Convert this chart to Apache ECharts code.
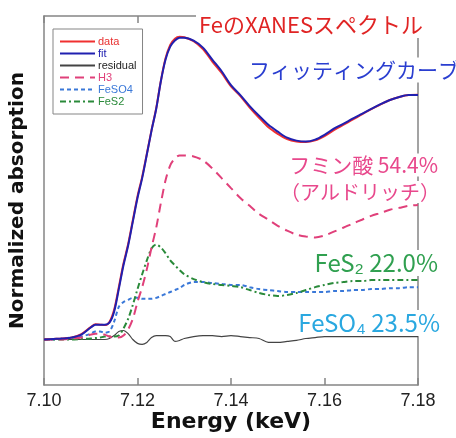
<!DOCTYPE html>
<html>
<head>
<meta charset="utf-8">
<script src="https://cdn.jsdelivr.net/npm/echarts@6/dist/echarts.min.js"></script>
<style>
  html, body { margin: 0; padding: 0; background: #fff; }
  #main { width: 456px; height: 438px; }
</style>
</head>
<body>
<div id="main"></div>
<script>
// エネルギー (keV)
var energy = [7.100, 7.102, 7.104, 7.106, 7.108, 7.110,
  7.111, 7.112, 7.113, 7.114, 7.115, 7.116, 7.117, 7.118, 7.119, 7.120,
  7.121, 7.122, 7.123, 7.124, 7.125, 7.126, 7.127, 7.128, 7.129, 7.130,
  7.132, 7.134, 7.136, 7.138, 7.140, 7.142, 7.144, 7.146, 7.148, 7.150,
  7.152, 7.154, 7.156, 7.158, 7.160, 7.162, 7.164, 7.166, 7.168, 7.170,
  7.172, 7.174, 7.176, 7.178, 7.180];

var dataY = [0, 0.002, 0.004, 0.008, 0.022, 0.051, 0.063, 0.061, 0.059, 0.072, 0.122, 0.215, 0.312, 0.392, 0.490, 0.588, 0.668, 0.763, 0.860, 0.950, 1.063, 1.155, 1.210, 1.236, 1.244, 1.242,
  1.226, 1.193, 1.142, 1.095, 1.040, 1.000, 0.953, 0.911, 0.872, 0.845, 0.823, 0.813, 0.811, 0.818, 0.836, 0.860, 0.882, 0.903, 0.925, 0.946, 0.966, 0.984, 0.996, 1.004, 1.005];

var fitY = [0, 0.002, 0.004, 0.008, 0.020, 0.049, 0.061, 0.061, 0.061, 0.069, 0.114, 0.207, 0.305, 0.386, 0.484, 0.581, 0.663, 0.760, 0.858, 0.947, 1.061, 1.150, 1.203, 1.228, 1.240, 1.240,
  1.228, 1.199, 1.150, 1.102, 1.045, 1.004, 0.959, 0.919, 0.882, 0.854, 0.829, 0.817, 0.813, 0.821, 0.841, 0.866, 0.886, 0.907, 0.927, 0.947, 0.967, 0.984, 0.996, 1.004, 1.004];

var residualY = [0, 0, 0, 0, 0, 0, 0, 0, 0, 0.004, 0.016, 0.033, 0.037, 0.024, 0, -0.016, -0.020, -0.012, 0.008, 0.016, 0.016, 0.016, 0.012, -0.008, -0.004, 0.004,
  0.012, 0.016, 0.016, 0.012, 0.016, 0.012, 0.008, 0.004, -0.012, -0.012, -0.008, -0.004, 0.004, 0.008, 0.012, 0.012, 0.012, 0.012, 0.012, 0.012, 0.012, 0.012, 0.012, 0.012, 0.012];

var h3Y = [0, 0, 0, 0.004, 0.008, 0.020, 0.024, 0.024, 0.020, 0.012, 0.008, 0.008, 0.016, 0.041, 0.085, 0.154, 0.215, 0.289, 0.378, 0.459, 0.561, 0.654, 0.715, 0.744, 0.756, 0.756,
  0.752, 0.736, 0.703, 0.663, 0.622, 0.581, 0.549, 0.516, 0.492, 0.467, 0.447, 0.431, 0.423, 0.419, 0.427, 0.443, 0.459, 0.476, 0.492, 0.508, 0.520, 0.533, 0.541, 0.549, 0.553];

var feso4Y = [0, 0, 0.004, 0.008, 0.012, 0.024, 0.033, 0.033, 0.028, 0.033, 0.073, 0.134, 0.154, 0.163, 0.171, 0.171, 0.167, 0.167, 0.167, 0.171, 0.179, 0.187, 0.195, 0.203, 0.211, 0.224,
  0.236, 0.236, 0.232, 0.228, 0.224, 0.224, 0.215, 0.207, 0.203, 0.199, 0.195, 0.195, 0.195, 0.195, 0.195, 0.199, 0.199, 0.203, 0.203, 0.207, 0.207, 0.211, 0.211, 0.215, 0.215];

var fes2Y = [0, 0, 0, 0, 0.002, 0.004, 0.006, 0.008, 0.012, 0.012, 0.012, 0.016, 0.045, 0.085, 0.142, 0.207, 0.268, 0.325, 0.374, 0.390, 0.378, 0.354, 0.325, 0.305, 0.285, 0.268,
  0.248, 0.236, 0.228, 0.224, 0.220, 0.215, 0.203, 0.191, 0.183, 0.179, 0.183, 0.191, 0.203, 0.215, 0.224, 0.232, 0.236, 0.240, 0.240, 0.244, 0.244, 0.244, 0.244, 0.244, 0.244];

// 目盛りラベル (7.10〜7.18, 0.02 刻み)
var xTickLabels = ['7.10', '7.12', '7.14', '7.16', '7.18'];

function pairs(ys) {
  return energy.map(function (e, i) { return [e, ys[i]]; });
}

var myChart = echarts.init(document.getElementById('main'));

var cjk = '"Noto Sans CJK JP", sans-serif';
var frameColor = '#858585';

function lineSeries(name, ys, color, width, dash, z) {
  return {
    name: name, type: 'line', data: pairs(ys),
    xAxisIndex: 0, yAxisIndex: 0,
    symbol: 'none', smooth: 0.3, z: z,
    lineStyle: { color: color, width: width, type: dash || 'solid' },
    itemStyle: { color: color }
  };
}

// 目盛りだけを描くカテゴリ軸 (上下とも内向き)
function tickAxis(pos, withLabel) {
  return {
    type: 'category', position: pos, data: xTickLabels, boundaryGap: false,
    axisLine: { show: false, onZero: false },
    axisTick: { show: true, inside: true, interval: 0, length: 7, lineStyle: { color: frameColor, width: 1.5 } },
    axisLabel: {
      show: withLabel, interval: 0, fontSize: 18, color: '#222', margin: 7, fontFamily: 'Liberation Sans'
    },
    splitLine: { show: false }
  };
}

var option = {
  backgroundColor: '#fff',
  animation: false,
  grid: { left: 44, right: 38, top: 16, bottom: 49 },
  legend: {
    orient: 'vertical',
    left: 53, top: 29,
    padding: [7, 6, 7, 6],
    itemWidth: 35, itemHeight: 10, itemGap: 1,
    borderColor: frameColor, borderWidth: 1,
    backgroundColor: '#fff',
    itemStyle: { opacity: 0 },
    textStyle: { fontSize: 11, fontFamily: 'Liberation Sans', padding: [0, 0, 0, -2] },
    data: [
      { name: 'data', textStyle: { color: '#e83030' } },
      { name: 'fit', textStyle: { color: '#2020b0' } },
      { name: 'residual', textStyle: { color: '#222' } },
      { name: 'H3', textStyle: { color: '#e0407a' } },
      { name: 'FeSO4', textStyle: { color: '#3a78d8' } },
      { name: 'FeS2', textStyle: { color: '#2a8a3a' } }
    ]
  },
  xAxis: [{
    type: 'value', position: 'bottom',
    min: 7.10, max: 7.18, interval: 0.02,
    name: 'Energy (keV)', nameLocation: 'middle', nameGap: 26,
    nameTextStyle: { fontSize: 22, fontWeight: 'bold', color: '#111', fontFamily: 'DejaVu Sans' },
    axisLine: { show: true, onZero: false, lineStyle: { color: frameColor, width: 1.5 } },
    axisTick: { show: false },
    axisLabel: { show: false },
    splitLine: { show: false }
  }, {
    type: 'value', position: 'top',
    min: 7.10, max: 7.18, interval: 0.02,
    axisLine: { show: true, onZero: false, lineStyle: { color: frameColor, width: 1.5 } },
    axisTick: { show: false },
    axisLabel: { show: false },
    splitLine: { show: false }
  },
    tickAxis('bottom', true),
    tickAxis('top', false)
  ],
  yAxis: [{
    type: 'value', position: 'left', min: -0.187, max: 1.329,
    name: 'Normalized absorption', nameLocation: 'middle', nameGap: 16,
    nameTextStyle: { fontSize: 20, fontWeight: 'bold', color: '#111', fontFamily: 'DejaVu Sans' },
    axisLine: { show: true, onZero: false, lineStyle: { color: frameColor, width: 1.5 } },
    axisTick: { show: false },
    axisLabel: { show: false },
    splitLine: { show: false }
  }, {
    type: 'value', position: 'right', min: -0.187, max: 1.329,
    axisLine: { show: true, onZero: false, lineStyle: { color: frameColor, width: 1.5 } },
    axisTick: { show: false },
    axisLabel: { show: false },
    splitLine: { show: false }
  }],
  series: [
    lineSeries('residual', residualY, '#444', 1.2, null, 2),
    lineSeries('FeSO4', feso4Y, '#3a78d8', 2, [4, 3], 3),
    lineSeries('FeS2', fes2Y, '#2a8a3a', 2, [6, 3, 2, 3], 4),
    lineSeries('H3', h3Y, '#e0407a', 2, [9, 6], 5),
    lineSeries('data', dataY, '#f03030', 2, null, 6),
    lineSeries('fit', fitY, '#2020b0', 2, null, 7)
  ],
  graphic: [
    { type: 'text', x: 196, y: 25, z: 100,
      style: { text: 'FeのXANESスペクトル', fill: '#e02424', font: '22px ' + cjk,
        verticalAlign: 'middle', backgroundColor: '#fff', padding: [2, 3] } },
    { type: 'text', x: 246, y: 70, z: 100,
      style: { text: 'フィッティングカーブ', fill: '#2a3ed0', font: '21px ' + cjk,
        verticalAlign: 'middle', backgroundColor: '#fff', padding: [2, 3] } },
    { type: 'text', x: 440, y: 165, z: 100,
      style: { text: 'フミン酸 54.4%', fill: '#e8488c', font: '21px ' + cjk,
        align: 'right', verticalAlign: 'middle', backgroundColor: '#fff', padding: [1, 2] } },
    { type: 'text', x: 442, y: 192, z: 100,
      style: { text: '（アルドリッチ）', fill: '#e8488c', font: '20px ' + cjk,
        align: 'right', verticalAlign: 'middle', backgroundColor: '#fff', padding: [1, 2] } },
    { type: 'text', x: 440, y: 263, z: 100,
      style: { text: 'FeS₂ 22.0%', fill: '#30a050', font: '24px ' + cjk,
        align: 'right', verticalAlign: 'middle', backgroundColor: '#fff', padding: [1, 2] } },
    { type: 'text', x: 442, y: 323, z: 100,
      style: { text: 'FeSO₄ 23.5%', fill: '#2aa8e0', font: '24px ' + cjk,
        align: 'right', verticalAlign: 'middle', backgroundColor: '#fff', padding: [1, 2] } }
  ]
};

myChart.setOption(option);
</script>
</body>
</html>
